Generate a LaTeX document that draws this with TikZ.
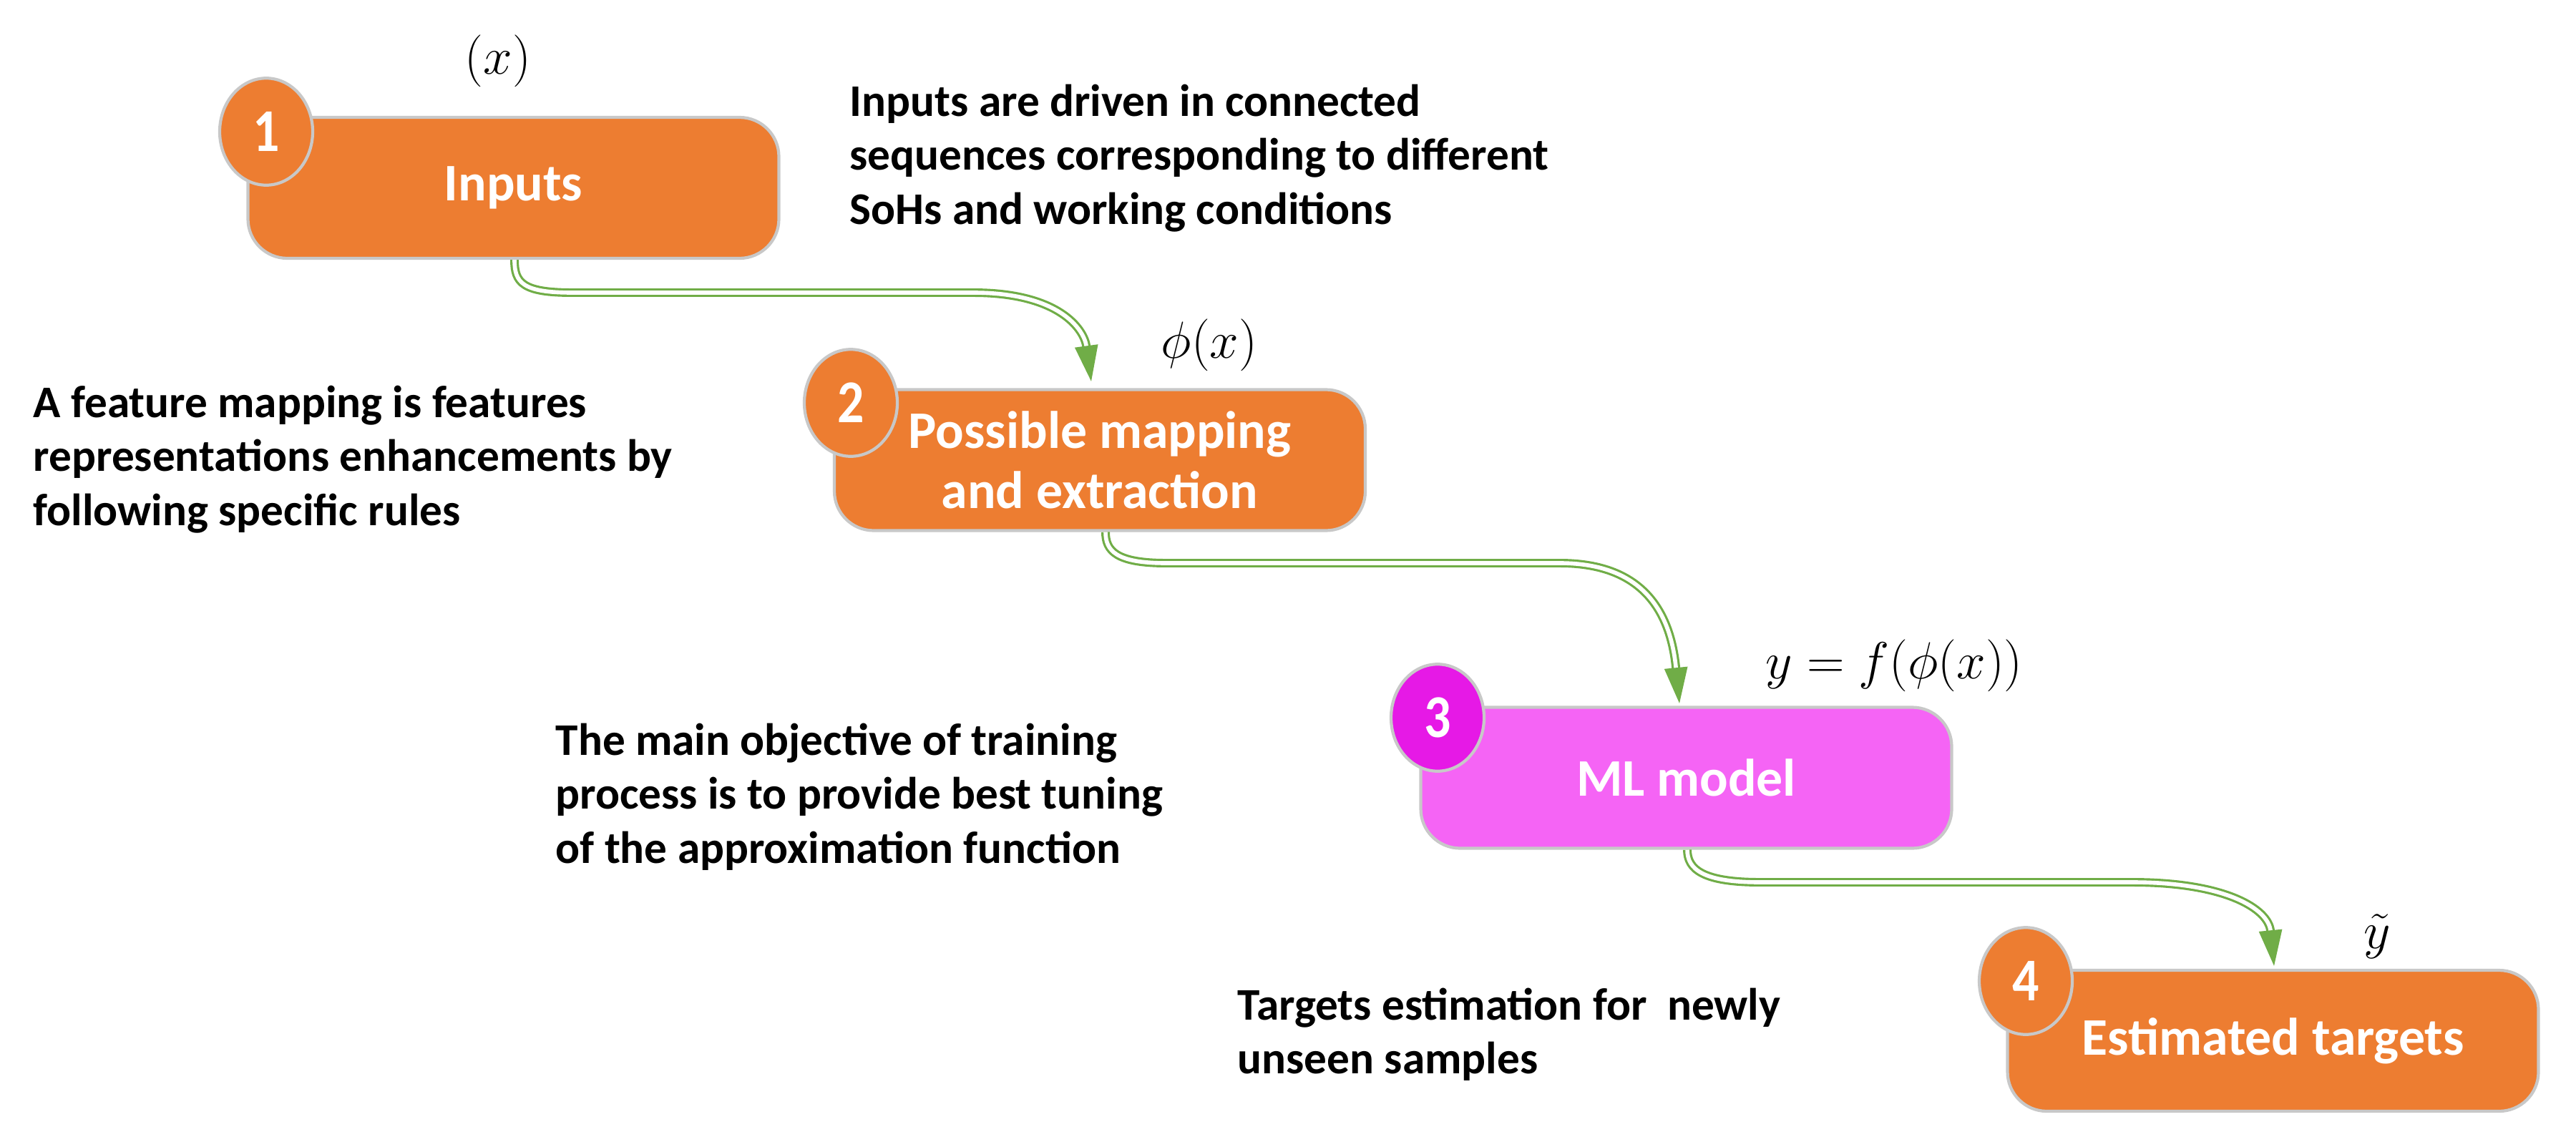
\documentclass[tikz,border=0pt]{standalone}
\usepackage{fontspec}
\setmainfont{Carlito}
\usetikzlibrary{arrows.meta}
\definecolor{org}{HTML}{ED7D31}
\definecolor{mag}{HTML}{F564F5}
\definecolor{magc}{HTML}{E619E6}
\definecolor{grn}{HTML}{70AD47}
\definecolor{bord}{HTML}{C8C8C8}
\begin{document}
\begin{tikzpicture}[x=1cm,y=1cm,
  box/.style={draw=bord,line width=1.2pt,rounded corners=0.55cm,minimum width=7.42cm,minimum height=1.97cm,text=white,align=center,font=\fontsize{21}{24}\selectfont\bfseries,inner sep=0pt},
  num/.style={circle,draw=bord,line width=1.2pt,fill=org,minimum size=1.3cm,inner sep=0pt,text=white,font=\fontsize{21}{24}\selectfont\bfseries,yscale=1.15},
  note/.style={anchor=north west,align=left,font=\fontsize{18}{21.5}\selectfont\bfseries,inner sep=0pt},
  lab/.style={font=\fontsize{20}{24}\selectfont},
  conn/.style={draw=grn,line width=0.9pt,double=white,double distance=1.6pt,-{Triangle[length=0.5cm,width=0.32cm,fill=grn]}}]
\useasboundingbox (0,0) rectangle (36,-16.02);
% nodes
\node[box,fill=org] (b1) at (7.175,-2.625) {Inputs};
\node[num] (c1) at (3.72,-1.84) {1};
\node[box,fill=org] (b2) at (15.37,-6.43) {Possible mapping\\and extraction};
\node[num] (c2) at (11.89,-5.63) {2};
\node[box,fill=mag] (b3) at (23.565,-10.87) {ML model};
\node[num,fill=magc] (c3) at (20.09,-10.03) {3};
\node[box,fill=org] (b4) at (31.765,-14.545) {Estimated targets};
\node[num] (c4) at (28.31,-13.71) {4};
% math labels
\node[lab] (l1) at (6.96,-0.85) {$(x)$};
\node[lab] (l2) at (16.9,-4.82) {$\phi(x)$};
\node[lab] (l3) at (26.47,-9.3) {$y=f(\phi(x))$};
\node[lab] (l4) at (33.22,-13.09) {$\tilde{y}$};
% notes
\node[note] (t1) at (11.87,-1.17) {Inputs are driven in connected\\sequences corresponding to different\\SoHs and working conditions};
\node[note] (t2) at (0.46,-5.38) {A feature mapping is features\\representations enhancements by\\following specific rules};
\node[note] (t3) at (7.76,-10.1) {The main objective of training\\process is to provide best tuning\\of the approximation function};
\node[note] (t4) at (17.29,-13.8) {Targets estimation for\ \ newly\\unseen samples};
% arrow ends
\coordinate (e1) at (15.25,-5.33);
\coordinate (e2) at (23.47,-9.83);
\coordinate (e3) at (31.78,-13.5);
\path[conn] (b1.south -| 7.19,0) .. controls (7.19,-3.95) and (7.3,-4.09) .. (8.0,-4.09) -- (13.6,-4.09) .. controls (14.8,-4.09) and (15.15,-4.6) .. (e1);
\path[conn] (b2.south -| 15.45,0) .. controls (15.45,-7.7) and (15.6,-7.87) .. (16.3,-7.87) -- (21.8,-7.87) .. controls (23.0,-7.87) and (23.35,-8.6) .. (e2);
\path[conn] (b3.south -| 23.58,0) .. controls (23.58,-12.15) and (23.8,-12.33) .. (24.6,-12.33) -- (29.8,-12.33) .. controls (31.1,-12.33) and (31.7,-12.7) .. (e3);
\end{tikzpicture}
\end{document}
